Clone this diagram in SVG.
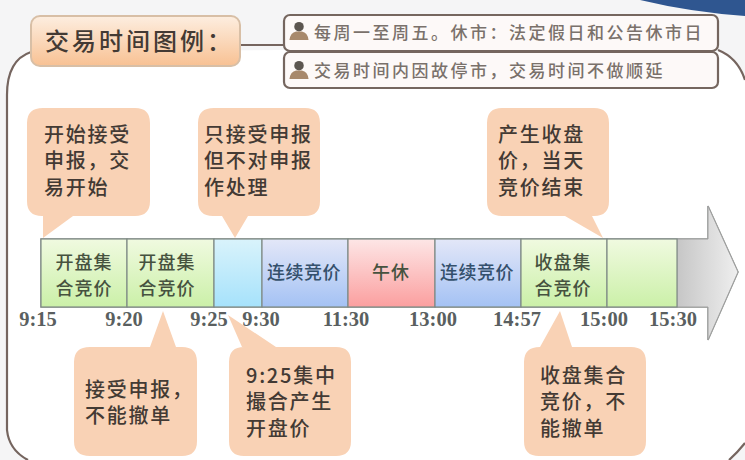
<svg xmlns="http://www.w3.org/2000/svg" width="745" height="460" viewBox="0 0 745 460">
<defs>
<style>
.cjk{font-family:"Noto Sans CJK SC","Liberation Sans",sans-serif;font-weight:500;fill:#433a34}
.c{font-size:20px;letter-spacing:1.75px}
.s{font-size:18px;letter-spacing:1px;fill:#46523f;text-anchor:middle}
.b{fill:#34506c;letter-spacing:.5px}
.n{font-size:20.5px;fill:#5a5f60;text-anchor:middle;font-family:"Liberation Serif",serif;font-weight:700}
.k{fill:#f9d2b5}
.t{font-size:17px;letter-spacing:2.5px;fill:#7a716b}
.pill{fill:#fdf9f8;stroke:#75665f;stroke-width:2.2}
.seg{stroke:#7f8a85;stroke-width:1.2}
.fr{fill:none;stroke:#75655f;stroke-width:2.2}
</style>
<linearGradient id="gt" x1="0" y1="0" x2="0" y2="1"><stop offset="0" stop-color="#fdeee0"/><stop offset="1" stop-color="#f8c193"/></linearGradient>
<linearGradient id="gg" x1="0" y1="0" x2="0" y2="1"><stop offset="0" stop-color="#f0fae0"/><stop offset="1" stop-color="#cbf0a8"/></linearGradient>
<linearGradient id="gc" x1="0" y1="0" x2="0" y2="1"><stop offset="0" stop-color="#d9f3fb"/><stop offset="1" stop-color="#a6e2fb"/></linearGradient>
<linearGradient id="gb" x1="0" y1="0" x2="0" y2="1"><stop offset="0" stop-color="#e3e7f8"/><stop offset="1" stop-color="#a4c2f4"/></linearGradient>
<linearGradient id="gr" x1="0" y1="0" x2="0" y2="1"><stop offset="0" stop-color="#fde6e6"/><stop offset="1" stop-color="#fb9f9f"/></linearGradient>
<linearGradient id="ga" x1="0" y1="0" x2="1" y2="0"><stop offset="0" stop-color="#c6c6c6"/><stop offset="1" stop-color="#efefef"/></linearGradient>
<symbol id="u" viewBox="0 0 20 22"><circle cx="10" cy="7" r="5" fill="#5c5650"/><path d="M0 21 Q1 13 7 12 L13 12 Q19 13 20 21Z" fill="#a8896c"/></symbol>
</defs>
<rect width="745" height="460" fill="#f5f5f6"/>
<path d="M31 52Q7 60 7 95V430Q9 450 28 460H729Q740 452 745 443V80Q735 55 718 50H284Z" fill="#fff"/>
<path d="M640 0Q690 12 745 16V0Z" fill="#2f5690"/>
<g id="connectors">
<path class="fr" d="M31 52Q7 60 7 95V430Q9 450 28 460"/>
<path class="fr" d="M718 50Q738 58 745 80"/>
<path class="fr" d="M745 443Q738 452 729 460"/>
<path class="fr" d="M240 45H284"/>
</g>
<g id="title"><rect x="31" y="16" width="209" height="50" rx="9" fill="url(#gt)" stroke="#d8bfa6" stroke-width="2"/><text class="cjk" x="45" y="50" font-size="24" letter-spacing="3">交易时间图例：</text></g>
<g id="note1"><rect class="pill" x="284" y="15" width="434" height="36" rx="6"/><use href="#u" x="289" y="20" width="20" height="21"/><text class="cjk t" x="314" y="39">每周一至周五。休市：法定假日和公告休市日</text></g>
<g id="note2"><rect class="pill" x="284" y="52" width="434" height="36" rx="6"/><use href="#u" x="289" y="59" width="20" height="21"/><text class="cjk t" x="314" y="77">交易时间内因故停市，交易时间不做顺延</text></g>

<g id="arrow">
<path d="M41 239H708V206L738 272L708 340V307H41Z" fill="#fff" stroke="#8f9490" stroke-width="1.5"/>
<path d="M677 239H708V206L738 272L708 340V307H677Z" fill="url(#ga)" stroke="#a0a0a0"/>
</g>
<g id="seg1"><rect class="seg" x="41" y="239" width="86" height="68" fill="url(#gg)"/><text class="cjk s" x="84" y="269">开盘集</text><text class="cjk s" x="84" y="295">合竞价</text></g>
<g id="seg2"><rect class="seg" x="127" y="239" width="87" height="68" fill="url(#gg)"/><text class="cjk s" x="167" y="269">开盘集</text><text class="cjk s" x="167" y="295">合竞价</text></g>
<g id="seg3"><rect class="seg" x="214" y="239" width="48" height="68" fill="url(#gc)"/></g>
<g id="seg4"><rect class="seg" x="262" y="239" width="86" height="68" fill="url(#gb)"/><text class="cjk s b" x="304" y="279">连续竞价</text></g>
<g id="seg5"><rect class="seg" x="348" y="239" width="87" height="68" fill="url(#gr)"/><text class="cjk s" x="391" y="279">午休</text></g>
<g id="seg6"><rect class="seg" x="435" y="239" width="86" height="68" fill="url(#gb)"/><text class="cjk s b" x="477" y="279">连续竞价</text></g>
<g id="seg7"><rect class="seg" x="521" y="239" width="86" height="68" fill="url(#gg)"/><text class="cjk s" x="563" y="269">收盘集</text><text class="cjk s" x="563" y="295">合竞价</text></g>
<g id="seg8"><rect class="seg" x="607" y="239" width="70" height="68" fill="url(#gg)"/></g>
<g id="times">
<text class="n" x="38" y="326">9:15</text><text class="n" x="124" y="326">9:20</text><text class="n" x="209" y="326">9:25</text><text class="n" x="261" y="326">9:30</text><text class="n" x="346" y="326">11:30</text><text class="n" x="433" y="326">13:00</text><text class="n" x="517" y="326">14:57</text><text class="n" x="604" y="326">15:00</text><text class="n" x="673" y="326">15:30</text>
</g>
<g id="callout1"><path class="k" d="M43 108H135Q150 108 150 123V201Q150 216 135 216H73L43 238V216H42Q27 216 27 201V123Q27 108 43 108Z"/><text class="cjk c" x="44" y="142">开始接受</text><text class="cjk c" x="44" y="168">申报，交</text><text class="cjk c" x="44" y="195">易开始</text></g>
<g id="callout2"><path class="k" d="M214 108H305Q320 108 320 123V201Q320 216 305 216H248L235 238L222 216H213Q198 216 198 201V123Q198 108 214 108Z"/><text class="cjk c" x="204" y="142">只接受申报</text><text class="cjk c" x="204" y="168">但不对申报</text><text class="cjk c" x="204" y="195">作处理</text></g>
<g id="callout3"><path class="k" d="M502 108H594Q609 108 609 123V201Q609 216 594 216H592L603 238L565 216H502Q487 216 487 201V123Q487 108 502 108Z"/><text class="cjk c" x="498" y="142">产生收盘</text><text class="cjk c" x="498" y="168">价，当天</text><text class="cjk c" x="498" y="195">竞价结束</text></g>
<g id="callout4"><path class="k" d="M90 347H150L163 311L176 347H182Q197 347 197 362V441Q197 456 182 456H90Q74 456 74 441V362Q74 347 90 347Z"/><text class="cjk c" x="85" y="397">接受申报，</text><text class="cjk c" x="85" y="423">不能撤单</text></g>
<g id="callout5"><path class="k" d="M244 347H242L228 315L276 347H336Q351 347 351 362V441Q351 456 336 456H244Q229 456 229 441V362Q229 347 244 347Z"/><text class="cjk c" x="246" y="383">9:25集中</text><text class="cjk c" x="246" y="409">撮合产生</text><text class="cjk c" x="246" y="436">开盘价</text></g>
<g id="callout6"><path class="k" d="M540 347L560 311L572 347H631Q646 347 646 362V441Q646 456 631 456H539Q524 456 524 441V362Q524 347 540 347Z"/><text class="cjk c" x="540" y="383">收盘集合</text><text class="cjk c" x="540" y="409">竞价，不</text><text class="cjk c" x="540" y="436">能撤单</text></g>
</svg>
